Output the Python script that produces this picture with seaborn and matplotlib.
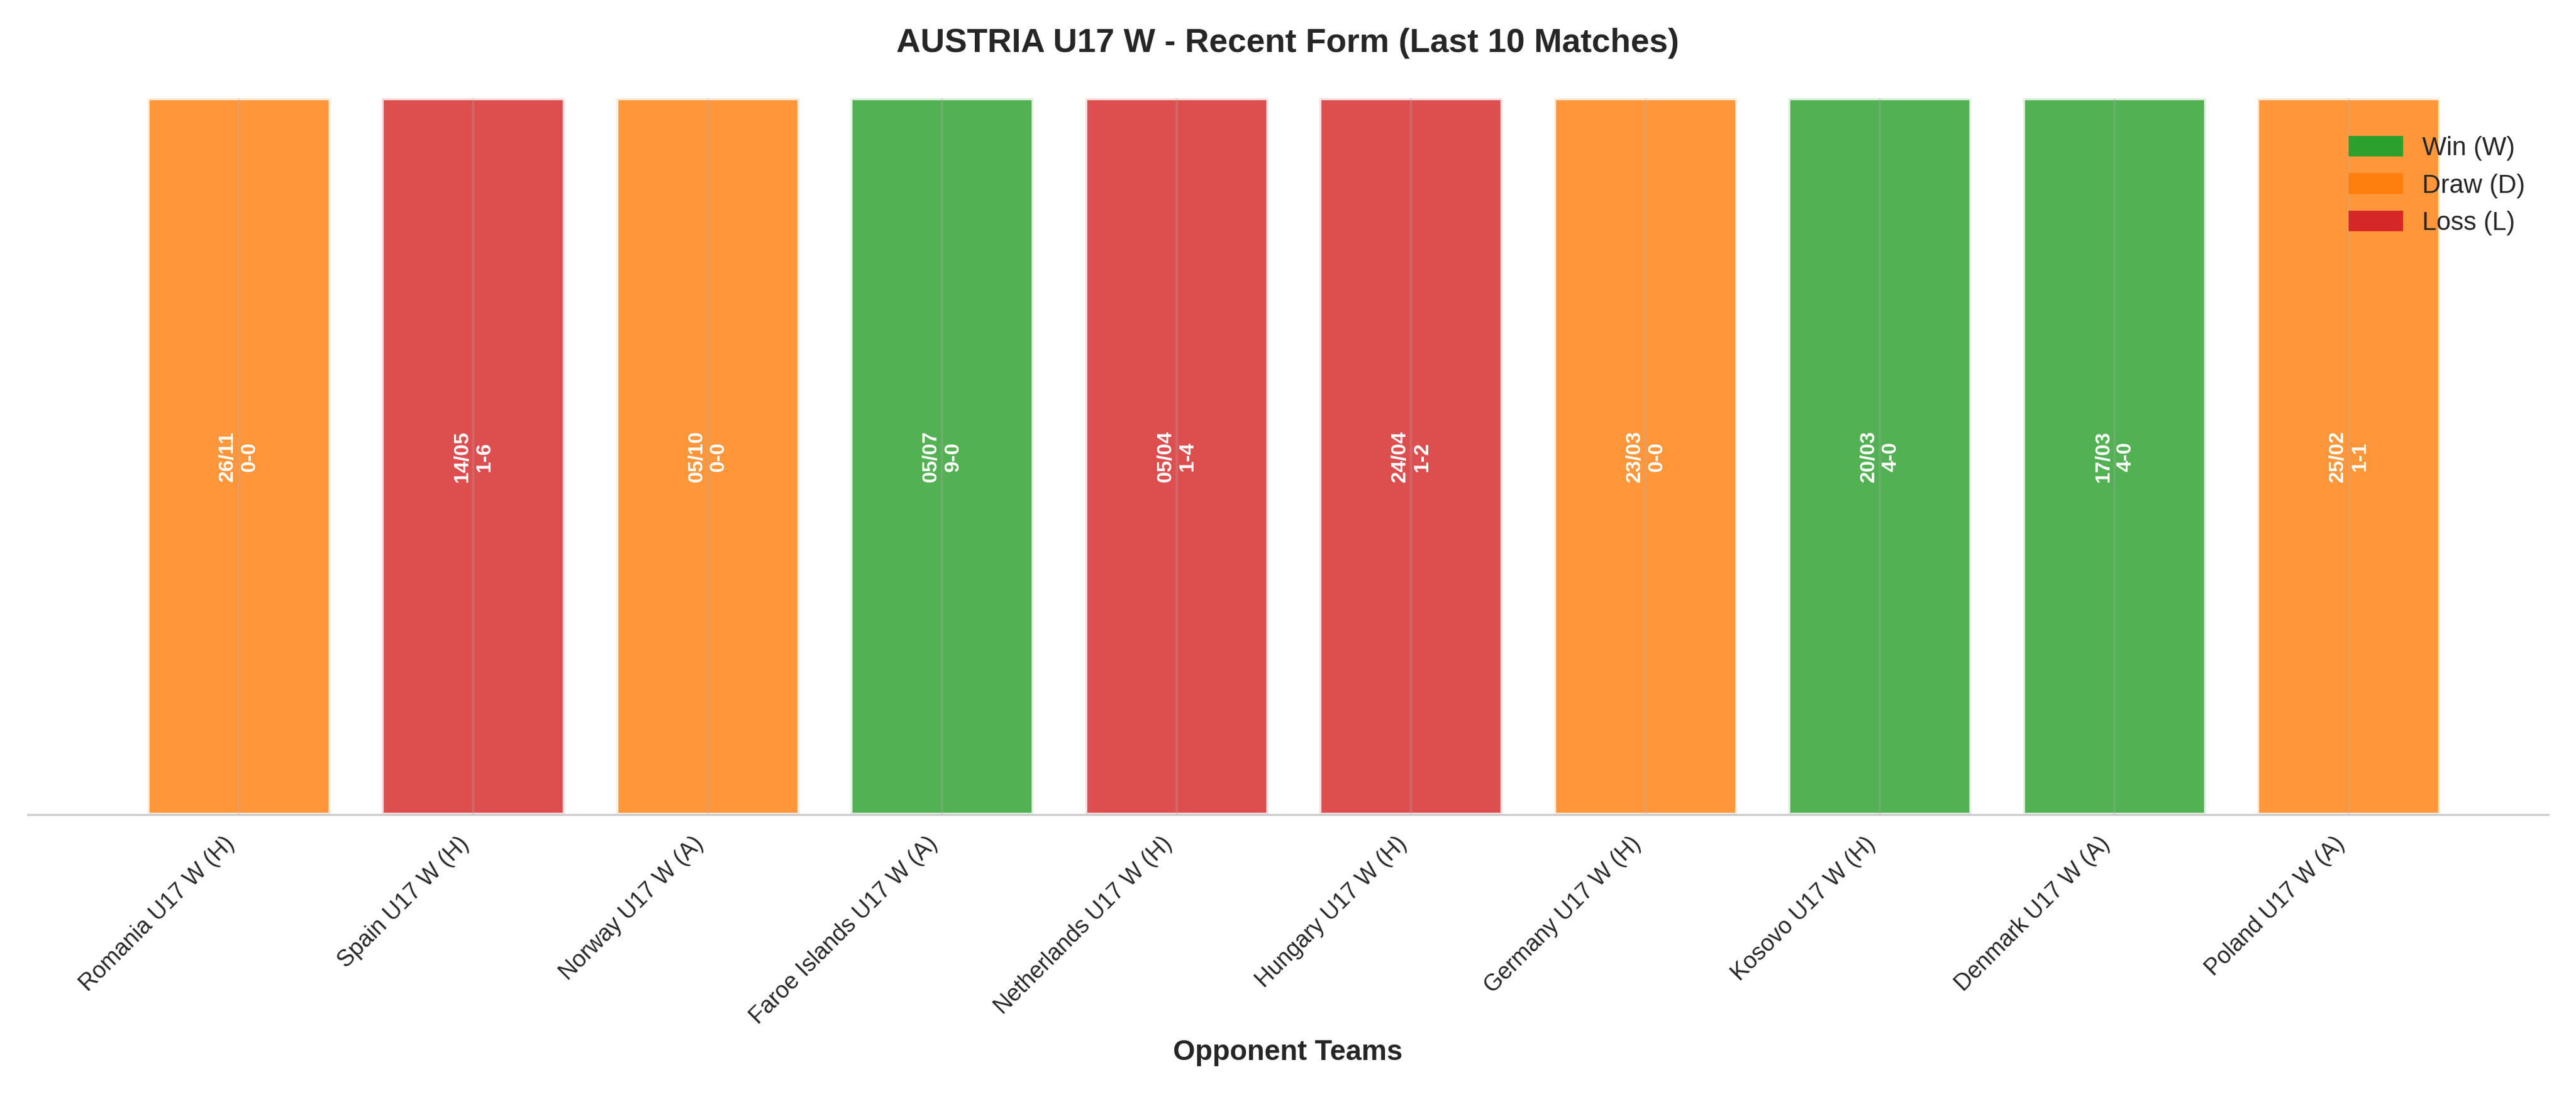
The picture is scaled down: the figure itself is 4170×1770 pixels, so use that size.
import matplotlib
matplotlib.use('Agg')
import matplotlib.pyplot as plt
import seaborn as sns
import pandas as pd
from matplotlib.patches import Patch

opponents = ['Romania U17 W (H)', 'Spain U17 W (H)', 'Norway U17 W (A)', 'Faroe Islands U17 W (A)',
             'Netherlands U17 W (H)', 'Hungary U17 W (H)', 'Germany U17 W (H)', 'Kosovo U17 W (H)',
             'Denmark U17 W (A)', 'Poland U17 W (A)']
results = ['D', 'L', 'D', 'W', 'L', 'L', 'D', 'W', 'W', 'D']
dates = ['26/11', '14/05', '05/10', '05/07', '05/04', '24/04', '23/03', '20/03', '17/03', '25/02']
scores = ['0-0', '1-6', '0-0', '9-0', '1-4', '1-2', '0-0', '4-0', '4-0', '1-1']
heights = [1] * 10

colors = {'W': '#2ca02c', 'D': '#ff7f0e', 'L': '#d62728'}

sns.set_style('whitegrid')
plt.rcParams['font.family'] = ['Liberation Sans', 'DejaVu Sans']

df = pd.DataFrame({'opponent': opponents, 'result': results, 'h': heights})

fig, ax = plt.subplots(figsize=(13.9, 5.9), dpi=300)
sns.barplot(data=df, x='opponent', y='h', hue='result', palette=colors, dodge=False,
            saturation=1, alpha=0.82, edgecolor='white', linewidth=1.5, width=0.78,
            legend=False, ax=ax)

for i, (d, s) in enumerate(zip(dates, scores)):
    ax.text(i, 0.5, f'{d}\n{s}', rotation=90, ha='center', va='center',
            color='white', fontsize=8, fontweight='bold')

ax.set_xlim(-0.9, 9.85)
ax.set_ylim(0, 1.0)
ax.set_yticks([])
ax.set_ylabel('')
ax.grid(axis='y', visible=False)
ax.grid(axis='x', color='#b0b0b0', alpha=0.25, linewidth=1)
ax.set_axisbelow(False)
ax.set_xlabel('Opponent Teams', fontsize=11, fontweight='bold')
ax.set_title('AUSTRIA U17 W - Recent Form (Last 10 Matches)', fontsize=13, fontweight='bold', pad=18)
plt.setp(ax.get_xticklabels(), rotation=45, ha='right', fontsize=9)
for sp in ['top', 'right', 'left']:
    ax.spines[sp].set_visible(False)
ax.spines['bottom'].set_color('#cccccc')

handles = [Patch(color=colors['W'], label='Win (W)'),
           Patch(color=colors['D'], label='Draw (D)'),
           Patch(color=colors['L'], label='Loss (L)')]
ax.legend(handles=handles, loc='upper right', bbox_to_anchor=(1.0, 0.98), frameon=False, fontsize=10)

plt.tight_layout()
plt.savefig('out.png', dpi=300)
